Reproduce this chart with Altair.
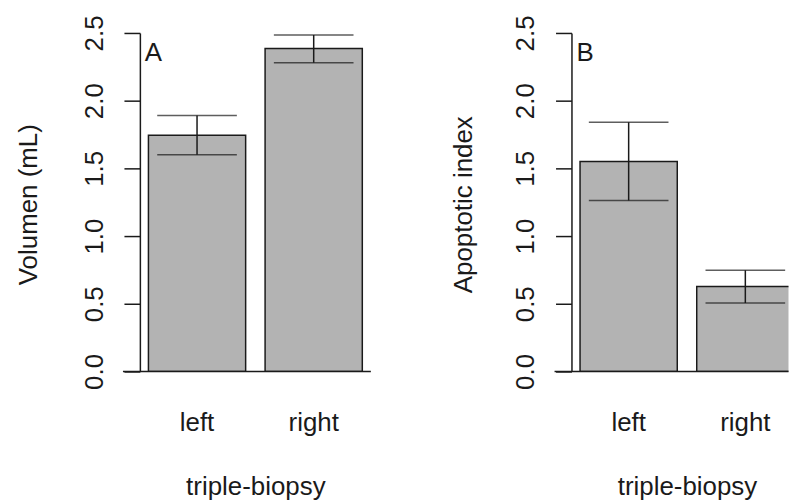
import altair as alt
import pandas as pd

categories = ["left", "right"]
volume_mean = [1.745, 2.385]
volume_lo = [1.60, 2.28]
volume_hi = [1.89, 2.485]
apoptotic_mean = [1.55, 0.627]
apoptotic_lo = [1.262, 0.505]
apoptotic_hi = [1.84, 0.748]
y_ticks = [0.0, 0.5, 1.0, 1.5, 2.0, 2.5]
panel_letters = ["A", "B"]
x_title = "triple-biopsy"
y_titles = ["Volumen (mL)", "Apoptotic index"]
baseline_value = [0.0]

FONT = "Liberation Sans"
INK = "#1a1a1a"
FILL = "#b3b3b3"
FS = 26
PLOT_W = 232
PLOT_H = 340


def panel(mean, lo, hi, letter, ytitle, visible_w, pad_outer, align, shift,
          title_x):
    df = pd.DataFrame({"cat": categories, "mean": mean, "lo": lo, "hi": hi})
    xscale = alt.Scale(domain=categories, paddingInner=1 / 6,
                       paddingOuter=pad_outer, align=align)
    yscale = alt.Scale(domain=[0, 2.5], nice=False, zero=True)
    xaxis = alt.Axis(title=x_title, labelAngle=0, domain=False, ticks=False,
                     tickSize=0, labelPadding=59.5, labelBaseline="alphabetic",
                     labelOffset=shift,
                     labelFont=FONT, labelFontSize=FS, labelColor=INK,
                     titleFont=FONT, titleFontSize=FS, titleFontWeight="normal",
                     titleColor=INK, titleBaseline="alphabetic", titleY=124,
                     titleX=PLOT_W / 2, titleAlign="center")
    yaxis = alt.Axis(title=ytitle, values=y_ticks, format=".1f", grid=False,
                     domainColor=INK, domainWidth=1.5, tickColor=INK,
                     tickWidth=1.5, tickSize=16, labelAngle=270,
                     labelAlign="center", labelBaseline="alphabetic",
                     labelPadding=22, labelFont=FONT, labelFontSize=FS,
                     labelColor=INK, titleAngle=270, titleAlign="center",
                     titleBaseline="alphabetic", titleX=title_x, titleY=172,
                     titleFont=FONT, titleFontSize=FS, titleFontWeight="normal",
                     titleColor=INK)

    def X():
        return alt.X("cat:N", scale=xscale, sort=categories, axis=xaxis)

    def Y(field):
        return alt.Y(field, scale=yscale, axis=yaxis)

    base = alt.Chart(df)
    bars = base.mark_bar(fill=FILL, stroke=INK, strokeWidth=1.5, clip=True,
                         xOffset=shift).encode(x=X(), y=Y("mean:Q"))
    whisk = base.mark_rule(color=INK, strokeWidth=1.5, clip=True,
                           xOffset=shift).encode(x=X(), y=Y("lo:Q"), y2="hi:Q")
    cap_hi = base.mark_tick(color=INK, size=80, thickness=1.5, clip=True,
                            xOffset=shift).encode(x=X(), y=Y("hi:Q"))
    cap_lo = base.mark_tick(color=INK, size=80, thickness=1.5, clip=True,
                            xOffset=shift).encode(x=X(), y=Y("lo:Q"))
    baseline = alt.Chart(pd.DataFrame({"v": baseline_value})).mark_rule(
        color=INK, strokeWidth=1.5).encode(
        y=Y("v:Q"), x=alt.value(-17), x2=alt.value(visible_w))
    label = alt.Chart(pd.DataFrame({"letter": [letter]})).mark_text(
        align="left", baseline="alphabetic", font=FONT, fontSize=FS, color=INK
    ).encode(x=alt.value(5), y=alt.value(28), text="letter:N")
    return alt.layer(bars, whisk, cap_hi, cap_lo, baseline, label).properties(
        width=visible_w, height=PLOT_H)


left = panel(volume_mean, volume_lo, volume_hi, panel_letters[0], y_titles[0],
             PLOT_W, 0.0733, 0.5, 0, -104)
right = panel(apoptotic_mean, apoptotic_lo, apoptotic_hi, panel_letters[1],
              y_titles[1], 218, 0.0134, 1, 5.47, -100)

chart = alt.hconcat(left, right, spacing=79.5).properties(
    padding={"left": 15.5, "top": 13, "right": 0, "bottom": 0},
    background="white",
).configure_view(stroke=None)

chart.save("out.html", embed_options={"renderer": "svg", "actions": False})
